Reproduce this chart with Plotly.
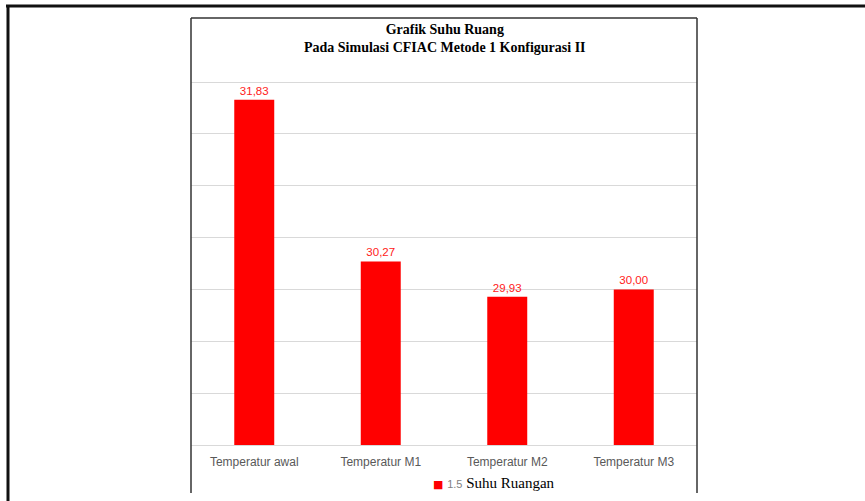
import plotly.graph_objects as go

categories = ["Temperatur awal", "Temperatur M1", "Temperatur M2", "Temperatur M3"]
suhu_ruangan = [31.83, 30.27, 29.93, 30.00]
series_name = "Suhu Ruangan"
title_lines = ["Grafik Suhu Ruang", "Pada Simulasi CFIAC Metode 1 Konfigurasi II"]

W, H = 865, 501
L, R, T, B = 191, 168, 81, 56
PW = W - L - R
PH = H - T - B


def px(x):
    return (x - L) / PW


def py(y):
    return (H - B - y) / PH


fig = go.Figure()
fig.add_trace(go.Bar(
    x=categories,
    y=suhu_ruangan,
    name=series_name,
    width=0.316,
    marker=dict(color="#ff0000", line=dict(width=0)),
    texttemplate="%{y:.2f}",
    textposition="outside",
    textfont=dict(family="Liberation Sans", size=11.5, color="#ff2020"),
    cliponaxis=False,
    showlegend=False,
))

shapes = []
# outer frame
shapes.append(dict(type="line", xref="paper", yref="paper", x0=px(6), x1=px(866), y0=py(6), y1=py(6),
                   line=dict(color="#111111", width=3)))
shapes.append(dict(type="line", xref="paper", yref="paper", x0=px(8), x1=px(8), y0=py(5), y1=py(502),
                   line=dict(color="#111111", width=3)))
# inner chart frame
for x0, y0, x1, y1 in [(191, 18, 697, 18), (191, 18, 191, 493), (697, 18, 697, 493)]:
    shapes.append(dict(type="line", xref="paper", yref="paper", x0=px(x0), x1=px(x1), y0=py(y0), y1=py(y1),
                       line=dict(color="#333333", width=1.5)))

annotations = [
    dict(xref="paper", yref="paper", x=px(445), y=py(39), xanchor="center", yanchor="middle",
         text="<b>" + title_lines[0] + "</b><br><b>" + title_lines[1] + "</b>",
         showarrow=False, font=dict(family="Liberation Serif", size=14, color="#000000")),
    dict(xref="paper", yref="paper", x=px(431), y=py(483), xanchor="left", yanchor="middle",
         text="<span style='color:#ff0000;font-size:11px;font-family:DejaVu Sans'>■</span> "
              "<span style=\"font-family:'Liberation Sans';font-size:11px;color:#7f7f7f\">1.5</span> "
              + series_name,
         showarrow=False, font=dict(family="Liberation Serif", size=15, color="#000000")),
]

fig.update_layout(
    width=W, height=H,
    margin=dict(l=L, r=R, t=T, b=B),
    paper_bgcolor="white", plot_bgcolor="white",
    separators=",.",
    bargap=0.68,
    showlegend=False,
    shapes=shapes,
    annotations=annotations,
    xaxis=dict(showgrid=False, showline=True, linecolor="#d9d9d9", linewidth=1, ticks="",
               ticklabelstandoff=6,
               tickfont=dict(family="Liberation Sans", size=12, color="#595959")),
    yaxis=dict(range=[28.5, 32.01], dtick=0.5, tick0=28.5, showticklabels=False, ticks="",
               showgrid=True, gridcolor="#d9d9d9", gridwidth=1, zeroline=False, showline=False),
)

fig.write_html("out.html", config={"displayModeBar": False},
               post_script="document.body.style.margin='0';document.body.style.overflow='hidden';")
